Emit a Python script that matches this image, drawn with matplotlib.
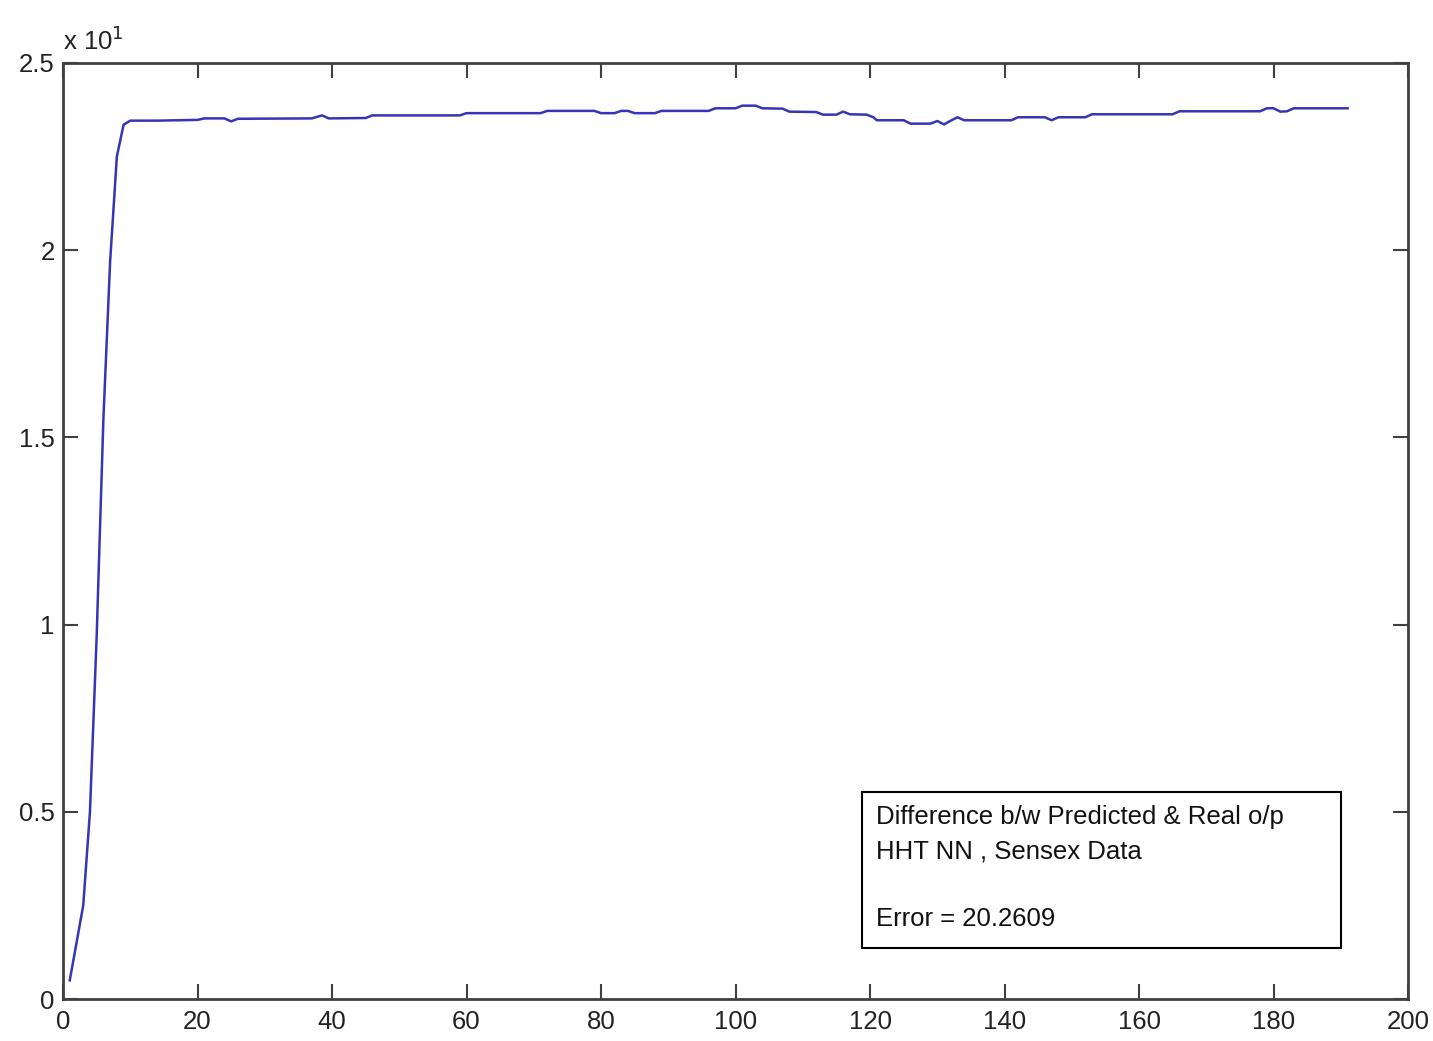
import matplotlib
matplotlib.use("Agg")
import matplotlib.pyplot as plt
from matplotlib.patches import Rectangle

plt.rcParams['font.family'] = ['Liberation Sans', 'DejaVu Sans']

# Data (y in units of x 10^1)
x_vals = [1, 2, 3, 4, 5, 6, 7, 8, 9, 10,
          14, 20, 21, 24, 25, 26, 37, 38.5, 39.5, 45, 46, 59, 60, 71, 72,
          79, 80, 82, 83, 84, 85, 88, 89, 96, 97, 100, 101, 103, 104, 107,
          108, 112, 113, 115, 116, 117, 119.5, 120.5, 121, 125, 126, 129,
          130, 131, 132, 133, 134, 141, 142, 146, 147, 148, 152, 153, 165,
          166, 178, 179, 180, 181, 182, 183, 191]
y_vals = [0.05, 0.15, 0.25, 0.50, 0.97, 1.55, 1.97, 2.25, 2.335, 2.346,
          2.346, 2.348, 2.352, 2.352, 2.344, 2.351, 2.352, 2.360, 2.352, 2.353, 2.360, 2.360, 2.366, 2.366, 2.372,
          2.372, 2.366, 2.366, 2.372, 2.372, 2.366, 2.366, 2.372, 2.372, 2.379, 2.379, 2.386, 2.386, 2.379, 2.378,
          2.370, 2.369, 2.362, 2.362, 2.370, 2.363, 2.362, 2.355, 2.347, 2.347, 2.338, 2.338,
          2.345, 2.336, 2.346, 2.355, 2.347, 2.347, 2.355, 2.355, 2.347, 2.355, 2.355, 2.363, 2.363,
          2.371, 2.371, 2.379, 2.379, 2.370, 2.371, 2.379, 2.379]

x_ticks = [0, 20, 40, 60, 80, 100, 120, 140, 160, 180, 200]
x_tick_labels = ['0', '20', '40', '60', '80', '100', '120', '140', '160', '180', '200']
y_ticks = [0, 0.5, 1, 1.5, 2, 2.5]
y_tick_labels = ['0', '0.5', '1', '1.5', '2', '2.5']
legend_lines = ['Difference b/w Predicted & Real o/p', 'HHT NN , Sensex Data', '', 'Error = 20.2609']

fig = plt.figure(figsize=(14.33, 10.41), dpi=100)
fig.patch.set_facecolor('white')
ax = fig.add_axes([0.044, 0.0403, 0.9386, 0.8992])

ax.plot(x_vals, y_vals, color='#3535b5', linewidth=1.8)

ax.set_xlim(0, 200)
ax.set_ylim(0, 2.5)
ax.set_xticks(x_ticks)
ax.set_xticklabels(x_tick_labels)
ax.set_yticks(y_ticks)
ax.set_yticklabels(y_tick_labels)

axis_col = '#404040'
for s in ax.spines.values():
    s.set_color(axis_col)
    s.set_linewidth(2.0)
ax.tick_params(direction='in', length=11, width=1.5, color=axis_col,
               top=True, right=True, labelsize=18.5, labelcolor='#222222')
ax.tick_params(axis='x', pad=8)
ax.tick_params(axis='y', pad=6)

# exponent label
ax.text(0.0, 1.008, r'x 10$^{1}$', transform=ax.transAxes, fontsize=18.5,
        color='#222222', ha='left', va='bottom')

# annotation box
rect = Rectangle((0.594, 0.0545), 0.356, 0.1665, transform=ax.transAxes,
                 facecolor='white', edgecolor='black', linewidth=1.5, zorder=3)
ax.add_patch(rect)
y0 = 0.1944
dy = 0.0363
for i, line in enumerate(legend_lines):
    if line:
        ax.text(0.6045, y0 - i * dy, line, transform=ax.transAxes, fontsize=18.5,
                color='#111111', ha='left', va='center', zorder=4)

fig.savefig('out.png', dpi=100, facecolor='white')
